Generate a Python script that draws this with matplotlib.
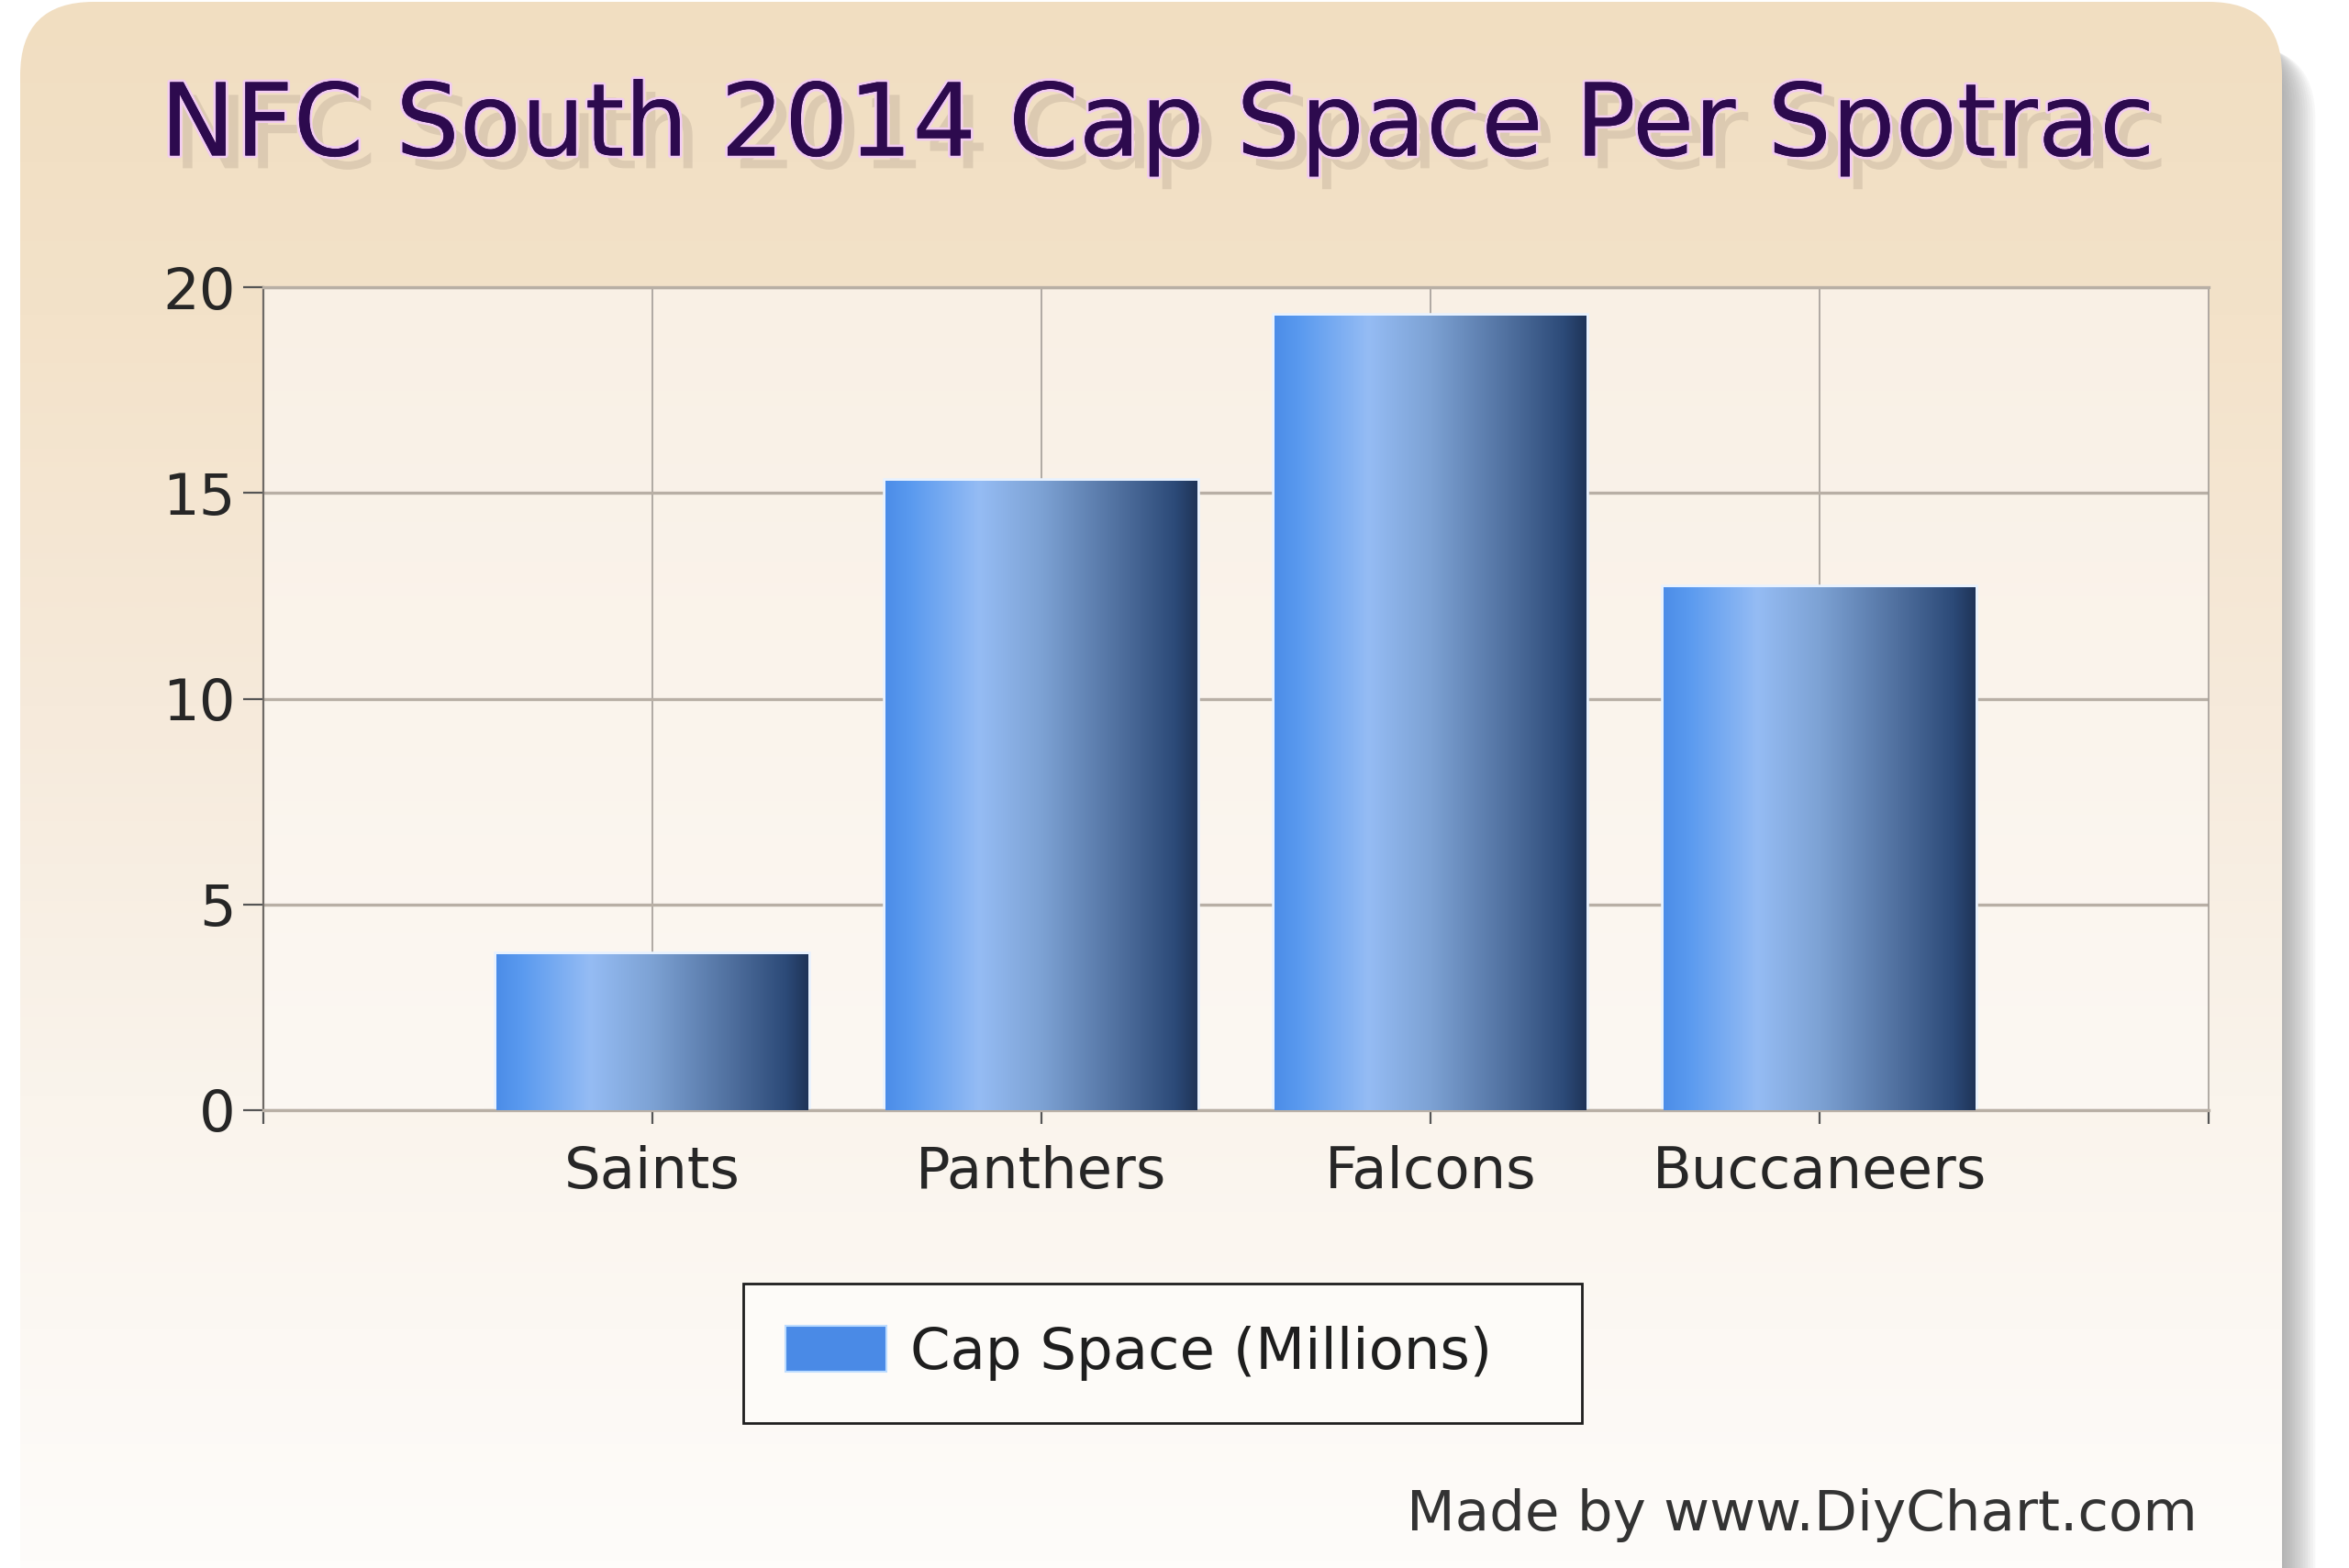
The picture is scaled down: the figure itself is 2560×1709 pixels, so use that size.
import numpy as np
import matplotlib
matplotlib.use("Agg")
import matplotlib.pyplot as plt
from matplotlib.patches import FancyBboxPatch, Patch
from matplotlib.colors import LinearSegmentedColormap
import matplotlib.patheffects as pe

# ---- data ----
teams = ["Saints", "Panthers", "Falcons", "Buccaneers"]
cap_space = [3.8, 15.3, 19.3, 12.7]
y_ticks = [0, 5, 10, 15, 20]
series_label = "Cap Space (Millions)"
title_text = "NFC South 2014 Cap Space Per Spotrac"
credit_text = "Made by www.DiyChart.com"

plt.rcParams["font.family"] = ["DejaVu Sans"]

W, H = 2560, 1709
fig = plt.figure(figsize=(W / 100, H / 100), dpi=100, facecolor="white")

# ---- background card ----
bg = fig.add_axes([0, 0, 1, 1])
bg.set_xlim(0, W)
bg.set_ylim(0, H)
bg.axis("off")

card_x0, card_x1, card_top = 22, 2487, H - 2
for i in range(14):
    d = i * 2.8
    sh = FancyBboxPatch((card_x0 + d, -300), card_x1 - card_x0, card_top + 300 - 30 - d * 0.5,
                        boxstyle="round,pad=0,rounding_size=80",
                        facecolor="#707070", edgecolor="none", alpha=0.05, zorder=1)
    bg.add_patch(sh)

card = FancyBboxPatch((card_x0, -300), card_x1 - card_x0, card_top + 300,
                      boxstyle="round,pad=0,rounding_size=80",
                      facecolor="none", edgecolor="none", zorder=2)
bg.add_patch(card)
card_cmap = LinearSegmentedColormap.from_list(
    "card", [(0.0, "#f1dec1"), (0.2, "#f3e2c9"), (0.45, "#f6eadb"),
             (0.7, "#faf4ec"), (1.0, "#fefcfa")])
grad_v = np.linspace(0, 1, 512).reshape(-1, 1)
im = bg.imshow(grad_v, cmap=card_cmap, extent=[card_x0, card_x1, 0, card_top],
               origin="upper", aspect="auto", zorder=3, interpolation="bilinear")
im.set_clip_path(card)
bg.set_xlim(0, W)
bg.set_ylim(0, H)

# ---- main axes ----
ax = fig.add_axes([287 / W, 499 / H, (2407 - 287) / W, (1396 - 499) / H])
ax.set_facecolor("none")
plot_cmap = LinearSegmentedColormap.from_list("plot", ["#f9f0e5", "#fcf8f3"])
ax.imshow(grad_v, cmap=plot_cmap, extent=[0, 1, 0, 1], transform=ax.transAxes,
          origin="upper", aspect="auto", zorder=-5, interpolation="bilinear")

x = np.arange(1, len(teams) + 1)
# light halo
ax.bar(x, cap_space, width=0.8, color="none", edgecolor="#e8f2ff", linewidth=4, zorder=2.5)
bars = ax.bar(x, cap_space, width=0.8, color="none", edgecolor="none", zorder=3)
bar_cmap = LinearSegmentedColormap.from_list(
    "bar", [(0.0, "#4c8de8"), (0.08, "#5a9aef"), (0.3, "#95bcf4"), (0.5, "#7da2d4"),
            (0.75, "#50709f"), (0.93, "#2c4a78"), (1.0, "#1f3458")])
grad_h = np.linspace(0, 1, 256).reshape(1, -1)
for b in bars:
    bim = ax.imshow(grad_h, cmap=bar_cmap,
                    extent=[b.get_x(), b.get_x() + b.get_width(), 0, b.get_height()],
                    aspect="auto", zorder=3, interpolation="bilinear")
    bim.set_clip_path(b)

ax.set_xlim(0, len(teams) + 1)
ax.set_ylim(y_ticks[0], y_ticks[-1])
ax.set_aspect("auto")

ax.set_xticks(x, teams)
ax.set_xticks([0, len(teams) + 1], minor=True)
ax.set_yticks(y_ticks, [str(v) for v in y_ticks])

ax.set_axisbelow(True)
ax.yaxis.grid(True, color="#b8afa5", linewidth=2.4, zorder=1)
ax.xaxis.grid(True, color="#a39d97", linewidth=1.2, zorder=1)

for s in ["top", "bottom"]:
    ax.spines[s].set_color("#b8afa5")
    ax.spines[s].set_linewidth(2.4)
ax.spines["right"].set_color("#a39d97")
ax.spines["right"].set_linewidth(1.2)
ax.spines["left"].set_color("#6e6a66")
ax.spines["left"].set_linewidth(1.6)

ax.tick_params(axis="y", length=16, width=1.6, color="#555555", pad=6,
               labelsize=45, labelcolor="#262626")
ax.tick_params(axis="x", which="both", length=11, width=1.6, color="#555555", pad=16,
               labelsize=45, labelcolor="#262626")

# ---- title ----
fig.text(1262 / W, 1 - 139 / H, title_text, ha="center", va="center",
         fontsize=79, color="#2d0a4e",
         path_effects=[pe.SimplePatchShadow(offset=(10, -10), shadow_rgbFace="#8a7a6a", alpha=0.2),
                       pe.withStroke(linewidth=4, foreground="#f2ccf2"),
                       pe.Normal()])

# ---- legend ----
handle = Patch(facecolor="#4a8ae6", edgecolor="#bcdcff", linewidth=1.5)
leg = fig.legend(handles=[handle], labels=[series_label], loc="lower left",
                 bbox_to_anchor=(810 / W, (H - 1551) / H, 914 / W, 150 / H),
                 mode="expand", fontsize=45, frameon=True, fancybox=False,
                 edgecolor="#1e1e1e", facecolor="#fdfbf8", framealpha=1,
                 borderpad=0.74, handlelength=1.75, handleheight=0.85,
                 handletextpad=0.42, borderaxespad=0)
leg.get_frame().set_linewidth(2)
for t in leg.get_texts():
    t.set_color("#1e1e1e")

# ---- credit ----
fig.text(2395 / W, (H - 1668) / H, credit_text, ha="right", va="baseline",
         fontsize=44, color="#333333")

fig.savefig("out.png", dpi=100, facecolor="white")
